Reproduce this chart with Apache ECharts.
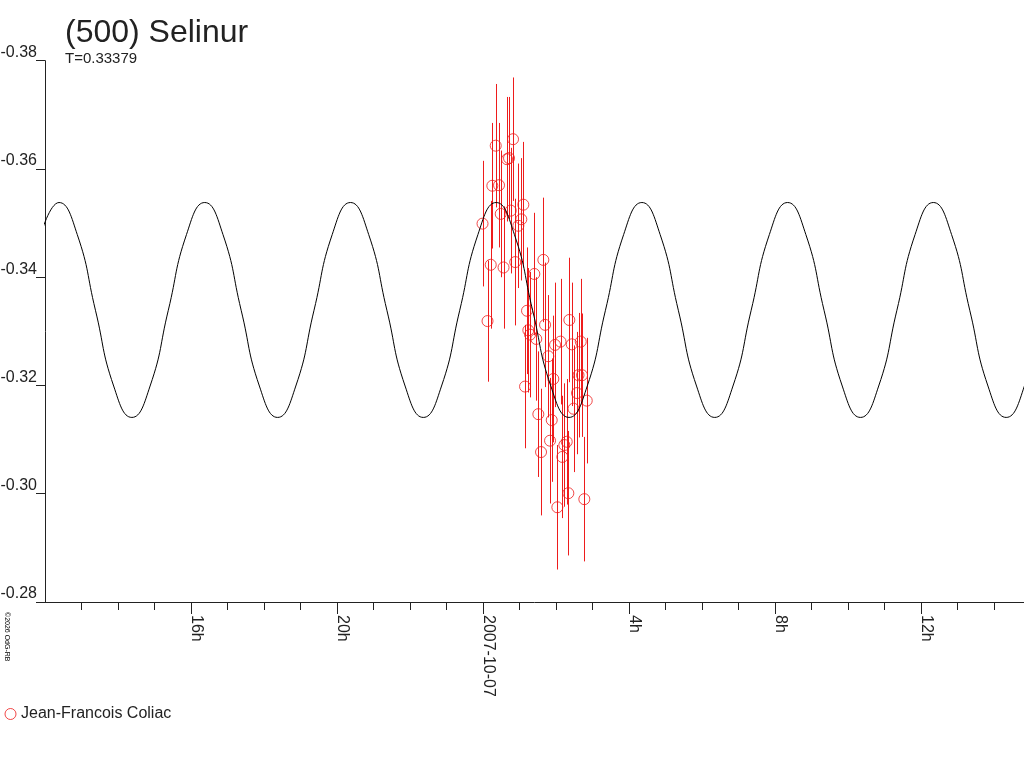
<!DOCTYPE html>
<html>
<head>
<meta charset="utf-8">
<script src="https://cdn.jsdelivr.net/npm/echarts@6/dist/echarts.min.js"></script>
<style>
html,body{margin:0;padding:0;background:#fff;}
#c{width:1024px;height:768px;}
</style>
</head>
<body>
<div id="c"></div>
<script>
// Observation times, hours since 2007-10-06 00:00 UT
var obsHours = [
  23.986, 24.123, 24.211, 24.255, 24.348, 24.438, 24.485, 24.562, 24.658, 24.712,
  24.759, 24.822, 24.882, 24.967, 25.049, 25.104, 25.151, 25.205, 25.241, 25.288,
  25.405, 25.458, 25.515, 25.589, 25.652, 25.699, 25.789, 25.836, 25.882, 25.926,
  25.973, 26.036, 26.123, 26.173, 26.227, 26.293, 26.337, 26.364, 26.430, 26.479,
  26.575, 26.616, 26.677, 26.712, 26.775, 26.841
];
// Relative magnitudes
var obsMags = [
  -0.3499, -0.3319, -0.3423, -0.3569, -0.3643, -0.3570, -0.3517, -0.3418, -0.3618, -0.3620,
  -0.3523, -0.3655, -0.3428, -0.3495, -0.3507, -0.3534, -0.3198, -0.3338, -0.3302, -0.3294,
  -0.3406, -0.3286, -0.3147, -0.3077, -0.3432, -0.3312, -0.3254, -0.3098, -0.3136, -0.3212,
  -0.3275, -0.2975, -0.3281, -0.3068, -0.3090, -0.3096, -0.3001, -0.3321, -0.3276, -0.3157,
  -0.3186, -0.3219, -0.3281, -0.3219, -0.2990, -0.3172
];
// Error bar half-lengths (mag)
var obsErrs = [
  0.0116, 0.0112, 0.0118, 0.0116, 0.0114, 0.0115, 0.0117, 0.0113, 0.0115, 0.0113,
  0.0116, 0.0114, 0.0117, 0.0115, 0.0113, 0.0116, 0.0114, 0.0117, 0.0115, 0.0116,
  0.0113, 0.0114, 0.0116, 0.0117, 0.0115, 0.0115, 0.0113, 0.0116, 0.0114, 0.0117,
  0.0115, 0.0115, 0.0116, 0.0113, 0.0114, 0.0116, 0.0115, 0.0115, 0.0114, 0.0117,
  0.0113, 0.0115, 0.0116, 0.0114, 0.0115, 0.0116
];
// Model light curve (hours since 2007-10-06 00:00 UT)
var curveHours = [
  11.885,
  12.384, 12.883, 13.382, 13.881, 14.380, 14.879, 15.378, 15.877,
  16.376, 16.875, 17.374, 17.873, 18.372, 18.871, 19.370, 19.869,
  20.368, 20.867, 21.366, 21.865, 22.364, 22.863, 23.362, 23.861,
  24.360, 24.859, 25.358, 25.857, 26.356, 26.855, 27.354, 27.853,
  28.352, 28.851, 29.350, 29.849, 30.348, 30.847, 31.346, 31.845,
  32.344, 32.843, 33.342, 33.841, 34.340, 34.839, 35.338, 35.837,
  36.336, 36.835, 37.334, 37.833, 38.332, 38.831, 39.330
];
var curveMags = [
  -0.3479,
  -0.3538, -0.3479, -0.3339, -0.3199, -0.3141, -0.3199, -0.3339, -0.3479,
  -0.3538, -0.3479, -0.3339, -0.3199, -0.3141, -0.3199, -0.3339, -0.3479,
  -0.3538, -0.3479, -0.3339, -0.3199, -0.3141, -0.3199, -0.3339, -0.3479,
  -0.3538, -0.3479, -0.3339, -0.3199, -0.3141, -0.3199, -0.3339, -0.3479,
  -0.3538, -0.3479, -0.3339, -0.3199, -0.3141, -0.3199, -0.3339, -0.3479,
  -0.3538, -0.3479, -0.3339, -0.3199, -0.3141, -0.3199, -0.3339, -0.3479,
  -0.3538, -0.3479, -0.3339, -0.3199, -0.3141, -0.3199, -0.3339
];
var xTickValues = [16, 20, 24, 28, 32, 36];
var xTickLabels = ['16h', '20h', '2007-10-07', '4h', '8h', '12h'];
var xHourTicks = [13, 14, 15, 17, 18, 19, 21, 22, 23, 25, 26, 27, 29, 30, 31, 33, 34, 35, 37, 38];
var yTickValues = [-0.38, -0.36, -0.34, -0.32, -0.30, -0.28];
var yTickLabels = ['-0.38', '-0.36', '-0.34', '-0.32', '-0.30', '-0.28'];
var seriesName = 'Jean-Francois Coliac';
var titleText = '(500) Selinur';
var subText = 'T=0.33379';
var xMin = 12, xMax = 38.82;

var RED = '#ee1c1c';
var INK = '#222';
var FONT = 'Liberation Sans, Arial, sans-serif';

var obsData = obsHours.map(function (t, i) { return [t, obsMags[i], obsErrs[i]]; });
var curveData = curveHours.map(function (t, i) { return [t, curveMags[i]]; });

var chart = echarts.init(document.getElementById('c'), null, {renderer: 'canvas'});
chart.setOption({
  animation: false,
  backgroundColor: '#fff',
  textStyle: {fontFamily: FONT},
  title: {
    text: titleText,
    subtext: subText,
    left: 60,
    top: 12,
    itemGap: 2,
    padding: [5, 5, 5, 5],
    textStyle: {fontSize: 32, fontWeight: 'normal', color: INK, fontFamily: FONT},
    subtextStyle: {fontSize: 15, color: INK, fontFamily: FONT}
  },
  legend: {
    left: 4.5,
    top: 706,
    padding: 0,
    itemWidth: 11,
    itemHeight: 11,
    data: [{name: seriesName, icon: 'circle',
      itemStyle: {color: 'rgba(0,0,0,0)', borderColor: RED, borderWidth: 1}}],
    textStyle: {fontSize: 16, color: INK, fontFamily: FONT}
  },
  graphic: [{
    type: 'text',
    x: 3, y: 612,
    rotation: -Math.PI / 2,
    style: {text: '\u00a92026 OdG-RB', fontSize: 7, fontFamily: FONT, fill: '#000',
      align: 'left', verticalAlign: 'bottom'}
  }],
  grid: {left: 45, top: 60.7, right: 0, bottom: 166, containLabel: false, outerBoundsMode: 'none'},
  xAxis: [{
    type: 'value',
    min: xMin,
    max: xMax,
    axisLine: {show: true, lineStyle: {color: INK, width: 1}},
    axisTick: {show: true, length: 8, customValues: xHourTicks, lineStyle: {color: INK}},
    splitLine: {show: false},
    axisLabel: {
      customValues: xTickValues,
      rotate: -90,
      margin: 13,
      fontSize: 16,
      lineHeight: 10,
      color: INK,
      fontFamily: FONT,
      verticalAlign: 'bottom',
      formatter: function (v) {
        var i = xTickValues.indexOf(Math.round(v * 1000) / 1000);
        return i >= 0 ? xTickLabels[i] : '';
      }
    }
  }, {
    type: 'value',
    position: 'bottom',
    min: xMin,
    max: xMax,
    axisLine: {show: false},
    axisTick: {show: true, length: 12, customValues: xTickValues, lineStyle: {color: INK}},
    axisLabel: {show: false},
    splitLine: {show: false}
  }],
  yAxis: {
    type: 'value',
    inverse: true,
    min: -0.38,
    max: -0.28,
    interval: 0.02,
    axisLine: {show: true, lineStyle: {color: INK, width: 1}},
    axisTick: {show: true, length: 9, lineStyle: {color: INK}},
    splitLine: {show: false},
    axisLabel: {
      margin: 8,
      fontSize: 16,
      color: INK,
      fontFamily: FONT,
      verticalAlign: 'bottom',
      formatter: function (v) {
        for (var i = 0; i < yTickValues.length; i++) {
          if (Math.abs(yTickValues[i] - v) < 1e-6) return yTickLabels[i];
        }
        return '';
      }
    }
  },
  series: [
    {
      type: 'custom',
      name: 'errbars',
      data: obsData,
      encode: {x: 0, y: 1},
      z: 2,
      silent: true,
      renderItem: function (params, api) {
        var x = api.value(0), y = api.value(1), e = api.value(2);
        var p1 = api.coord([x, y - e]);
        var p2 = api.coord([x, y + e]);
        return {
          type: 'line',
          shape: {x1: Math.round(p1[0]) + 0.5, y1: p1[1], x2: Math.round(p2[0]) + 0.5, y2: p2[1]},
          style: {stroke: RED, lineWidth: 1}
        };
      }
    },
    {
      type: 'scatter',
      name: seriesName,
      data: obsData.map(function (d) { return [d[0], d[1]]; }),
      symbol: 'circle',
      symbolSize: 11,
      z: 3,
      itemStyle: {color: 'rgba(0,0,0,0)', borderColor: RED, borderWidth: 1}
    },
    {
      type: 'line',
      name: 'model',
      data: curveData,
      smooth: 0.5,
      showSymbol: false,
      symbol: 'none',
      clip: true,
      z: 4,
      lineStyle: {color: '#000', width: 1}
    }
  ]
});
</script>
</body>
</html>
